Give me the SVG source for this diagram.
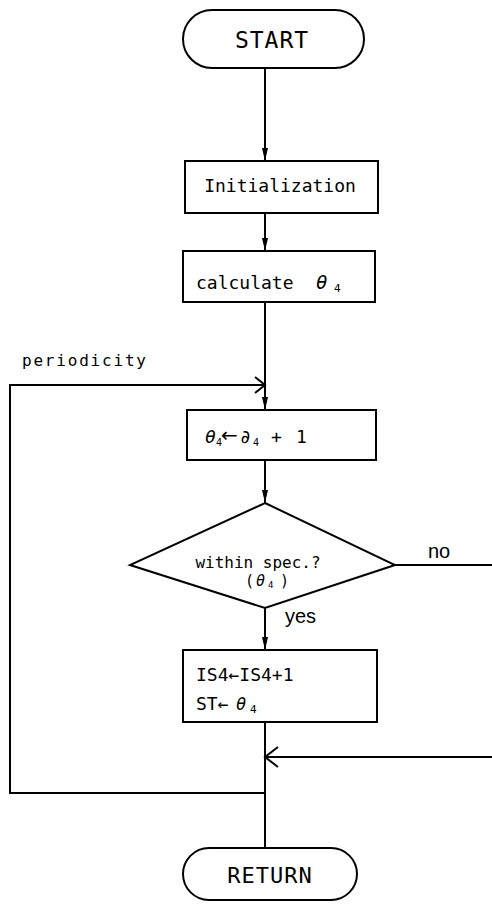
<svg xmlns="http://www.w3.org/2000/svg" width="492" height="922" viewBox="0 0 492 922">
<style>
.sh{fill:#fff;stroke:#000;stroke-width:2}
.ln{fill:none;stroke:#000;stroke-width:2}
.oa{fill:none;stroke:#000;stroke-width:2}
text{font-family:"DejaVu Sans Mono","Liberation Mono",monospace;fill:#000}
.lb{font-family:"Liberation Sans",Arial,sans-serif}
.ar{font-family:"DejaVu Sans",sans-serif}
.it{font-style:italic}
</style>
<defs>
<marker id="af" markerWidth="14" markerHeight="8" refX="13" refY="4" orient="auto" markerUnits="userSpaceOnUse" viewBox="0 0 14 8">
<path d="M0,1 L13,4 L0,7 Z" fill="#000"/>
</marker>
</defs>
<rect width="492" height="922" fill="#fff"/>
<g id="connectors">
<line class="ln" x1="265" y1="68" x2="265" y2="161" marker-end="url(#af)"/>
<line class="ln" x1="265" y1="213" x2="265" y2="251" marker-end="url(#af)"/>
<line class="ln" x1="265" y1="302" x2="265" y2="410" marker-end="url(#af)"/>
<line class="ln" x1="265" y1="460" x2="265" y2="503" marker-end="url(#af)"/>
<line class="ln" x1="265" y1="608" x2="265" y2="650" marker-end="url(#af)"/>
<line class="ln" x1="265" y1="722" x2="265" y2="848"/>
<polyline class="ln" points="395,565 492,565"/>
<polyline class="ln" points="492,757 265,757"/>
<path class="oa" d="M278,747 L265,757 L278,767"/>
<polyline class="ln" points="265,793 10,793 10,385 265,385"/>
<path class="oa" d="M255,377 L265,385 L255,393"/>
<text class="lb" x="428" y="558" font-size="20">no</text>
<text class="lb" x="285" y="623" font-size="20">yes</text>
<text x="22" y="366" font-size="16" letter-spacing="1.8">periodicity</text>
</g>
<g id="start">
<rect class="sh" x="183" y="10" width="181" height="58" rx="29"/>
<text x="272" y="48" font-size="23" text-anchor="middle" letter-spacing="1">START</text>
</g>
<g id="init">
<rect class="sh" x="185" y="161" width="193" height="52"/>
<text x="280" y="192" font-size="18" text-anchor="middle">Initialization</text>
</g>
<g id="calc">
<rect class="sh" x="183" y="251" width="192" height="51"/>
<text x="196" y="289" font-size="18">calculate</text>
<text class="it" x="316" y="289" font-size="19">θ</text>
<text x="334" y="292" font-size="11">4</text>
</g>
<g id="incr">
<rect class="sh" x="187" y="410" width="189" height="50"/>
<text class="it" x="205" y="443" font-size="18">θ</text>
<text x="216" y="446" font-size="10">4</text>
<text class="ar" x="221" y="442" font-size="20">←</text>
<text class="it" x="240" y="443" font-size="18">∂</text>
<text x="253" y="446" font-size="10">4</text>
<text x="271" y="443" font-size="18">+</text>
<text x="296" y="443" font-size="18">1</text>
</g>
<g id="check">
<polygon class="sh" points="265,503 395,565 265,608 130,565"/>
<text x="258" y="568" font-size="16" text-anchor="middle">within spec.?</text>
<text x="245" y="586" font-size="15">(</text>
<text class="it" x="256" y="586" font-size="15">θ</text>
<text x="268" y="588" font-size="9">4</text>
<text x="280" y="586" font-size="15">)</text>
</g>
<g id="update">
<rect class="sh" x="183" y="650" width="194" height="72"/>
<text x="196" y="681" font-size="18">IS4←IS4+1</text>
<text x="196" y="710" font-size="18">ST←</text>
<text class="it" x="236" y="710" font-size="17">θ</text>
<text x="250" y="713" font-size="11">4</text>
</g>
<g id="return">
<rect class="sh" x="183" y="848" width="174" height="52" rx="26"/>
<text x="270" y="883" font-size="22" text-anchor="middle" letter-spacing="1">RETURN</text>
</g>
</svg>
